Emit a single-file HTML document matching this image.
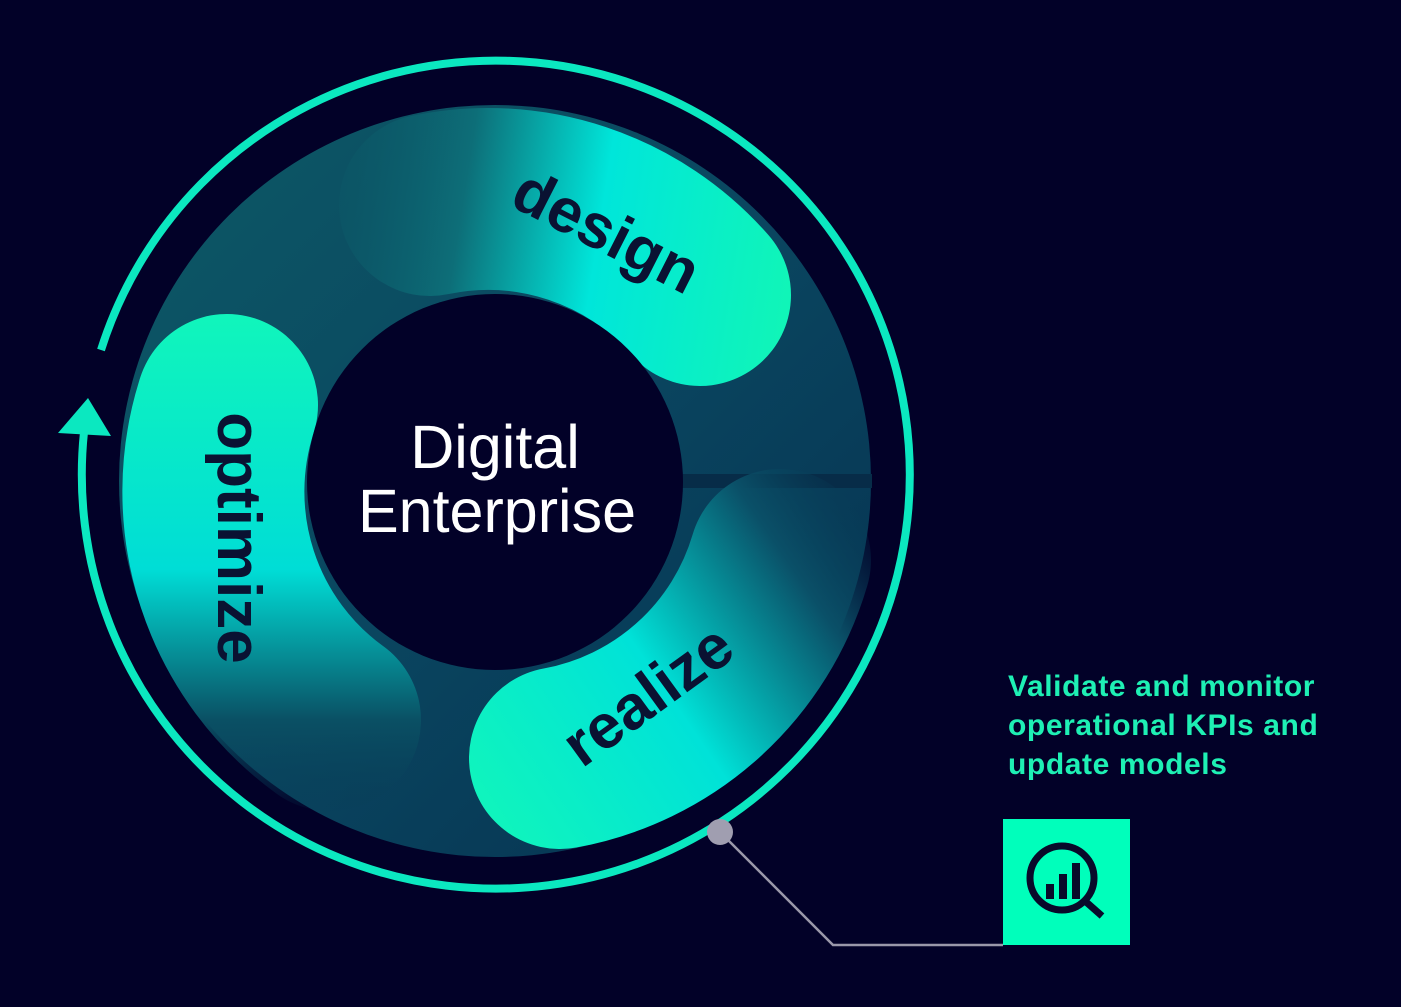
<!DOCTYPE html>
<html><head><style>
body{margin:0;background:#020128;}
svg{display:block}
</style></head><body>
<svg width="1401" height="1007" viewBox="0 0 1401 1007" xmlns="http://www.w3.org/2000/svg">
<defs>
<linearGradient id="disk" x1="0" y1="0" x2="1" y2="1">
<stop offset="0" stop-color="#0d5a66"/><stop offset="0.5" stop-color="#0a4660"/><stop offset="1" stop-color="#05304f"/>
</linearGradient>
<linearGradient id="gd" gradientUnits="userSpaceOnUse" x1="280" y1="200" x2="790" y2="280">
<stop offset="0" stop-color="#0c5262" stop-opacity="0"/><stop offset="0.35" stop-color="#0d6e78"/><stop offset="0.62" stop-color="#00e6da"/><stop offset="1" stop-color="#10f5b8"/>
</linearGradient>
<linearGradient id="go" gradientUnits="userSpaceOnUse" x1="0" y1="320" x2="0" y2="820">
<stop offset="0" stop-color="#10f5bc"/><stop offset="0.5" stop-color="#00ddd6"/><stop offset="0.8" stop-color="#0a5064"/><stop offset="1" stop-color="#073a55" stop-opacity="0"/>
</linearGradient>
<linearGradient id="gr" gradientUnits="userSpaceOnUse" x1="470" y1="800" x2="880" y2="520">
<stop offset="0" stop-color="#10f5bc"/><stop offset="0.45" stop-color="#00e2d8"/><stop offset="0.8" stop-color="#0a5068"/><stop offset="1" stop-color="#073a55" stop-opacity="0"/>
</linearGradient>
</defs>
<circle cx="495" cy="481" r="376" fill="url(#disk)"/>
<line x1="680" y1="481" x2="872" y2="481" stroke="#072c48" stroke-width="14"/>
<path d="M 430 205 A 282 282 0 0 1 700 295" fill="none" stroke="url(#gd)" stroke-width="182" stroke-linecap="round"/>
<path d="M 227 405 A 282 282 0 0 0 330 720" fill="none" stroke="url(#go)" stroke-width="182" stroke-linecap="round"/>
<path d="M 560 758 A 282 282 0 0 0 780 560" fill="none" stroke="url(#gr)" stroke-width="182" stroke-linecap="round"/>
<circle cx="495" cy="482" r="188" fill="#020128"/>
<path d="M 101 350 A 414 414 0 1 1 84 432" fill="none" stroke="#0be8c0" stroke-width="8"/>
<polygon points="88,398 58,433 111,436" fill="#0be8c0"/>
<g font-family="Liberation Sans, sans-serif" font-weight="bold" fill="#0a1232" font-size="62">
<text transform="translate(597,250) rotate(27)" text-anchor="middle">design</text>
<text transform="translate(218,538) rotate(90)" text-anchor="middle">optimize</text>
<text transform="translate(660,712) rotate(-36)" text-anchor="middle">realize</text>
</g>
<g font-family="Liberation Sans, sans-serif" fill="#ffffff" font-size="61" text-anchor="middle">
<text x="495" y="468">Digital</text>
<text x="497" y="532">Enterprise</text>
</g>
<polyline points="720,832 833,945 1003,945" fill="none" stroke="#9a98aa" stroke-width="2.5"/>
<circle cx="720" cy="832" r="13" fill="#a09eb0"/>
<rect x="1003" y="819" width="127" height="126" fill="#00ffbb"/>
<circle cx="1062" cy="878" r="32" fill="none" stroke="#080a2a" stroke-width="7"/>
<line x1="1085" y1="901" x2="1102" y2="916" stroke="#080a2a" stroke-width="7"/>
<rect x="1046" y="884" width="8" height="15" fill="#080a2a"/>
<rect x="1059" y="874" width="8" height="25" fill="#080a2a"/>
<rect x="1072" y="863" width="8" height="36" fill="#080a2a"/>
<g font-family="Liberation Sans, sans-serif" font-weight="bold" fill="#1ef0b4" font-size="30" letter-spacing="0.6">
<text x="1008" y="696">Validate and monitor</text>
<text x="1008" y="735">operational KPIs and</text>
<text x="1008" y="774">update models</text>
</g>
</svg>
</body></html>
